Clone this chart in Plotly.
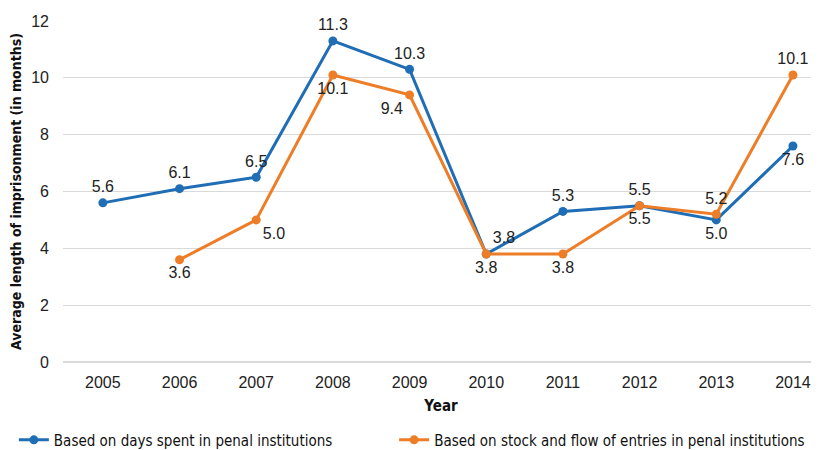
import plotly.graph_objects as go

years = [2005, 2006, 2007, 2008, 2009, 2010, 2011, 2012, 2013, 2014]
days_spent = [5.6, 6.1, 6.5, 11.3, 10.3, 3.8, 5.3, 5.5, 5.0, 7.6]
stock_flow = [None, 3.6, 5.0, 10.1, 9.4, 3.8, 3.8, 5.5, 5.2, 10.1]

blue_pos = ["top center"] * 5 + ["top right", "top center", "top center",
                                 "bottom center", "bottom center"]
orange_pos = ["bottom center", "bottom center", "bottom right", "bottom center",
              "bottom left", "bottom center", "bottom center", "bottom center",
              "top center", "top center"]

blue = "#1f6db5"
orange = "#ee7d27"
narrow = "DejaVu Sans Condensed"

fig = go.Figure()
fig.add_trace(go.Scatter(
    x=years, y=days_spent, mode="lines+markers+text",
    name="Based on days spent in penal institutions",
    line=dict(color=blue, width=3), marker=dict(size=9, color=blue),
    text=[f"{v:.1f}" for v in days_spent], textposition=blue_pos,
    textfont=dict(size=16, color="#222222", family="Liberation Sans, Arial"),
    cliponaxis=False, legend="legend", showlegend=True,
))
fig.add_trace(go.Scatter(
    x=years, y=stock_flow, mode="lines+markers+text",
    name="Based on stock and flow of entries in penal institutions",
    line=dict(color=orange, width=3), marker=dict(size=9, color=orange),
    text=["" if v is None else f"{v:.1f}" for v in stock_flow], textposition=orange_pos,
    textfont=dict(size=16, color="#222222", family="Liberation Sans, Arial"),
    cliponaxis=False, legend="legend2", showlegend=True,
))

# page body keeps an 8px margin, so the figure is 8px smaller than the window
leg_font = dict(family=narrow, size=15, color="#111111")
fig.update_layout(
    width=811, height=442,
    margin=dict(l=55, r=0, t=13, b=88, autoexpand=False),
    plot_bgcolor="white", paper_bgcolor="white",
    font=dict(family="Liberation Sans, Arial", size=16, color="#222222"),
    showlegend=True,
    legend=dict(orientation="h", x=-0.065, y=-0.229, xanchor="left", yanchor="middle",
                font=leg_font, visible=True),
    legend2=dict(orientation="h", x=0.438, y=-0.229, xanchor="left", yanchor="middle",
                 font=leg_font, visible=True),
)
fig.update_xaxes(
    range=[2004.48, 2014.34], tickmode="array", tickvals=years,
    ticktext=[str(y) for y in years], showgrid=False, zeroline=False,
    showline=False, ticks="", automargin=False, ticklabelstandoff=9,
    title=dict(text="<b>Year</b>", font=dict(family=narrow, size=15, color="#111111"),
               standoff=10),
)
fig.update_yaxes(
    range=[0, 12], dtick=2, gridcolor="#d9d9d9", gridwidth=1,
    zeroline=True, zerolinecolor="#d9d9d9", showline=False, ticks="",
    ticklabelstandoff=13, automargin=False,
    title=dict(text="<b>Average length of imprisonment (in months)</b>",
               font=dict(family=narrow, size=14, color="#111111"), standoff=12),
)

fig.write_html("out.html")
